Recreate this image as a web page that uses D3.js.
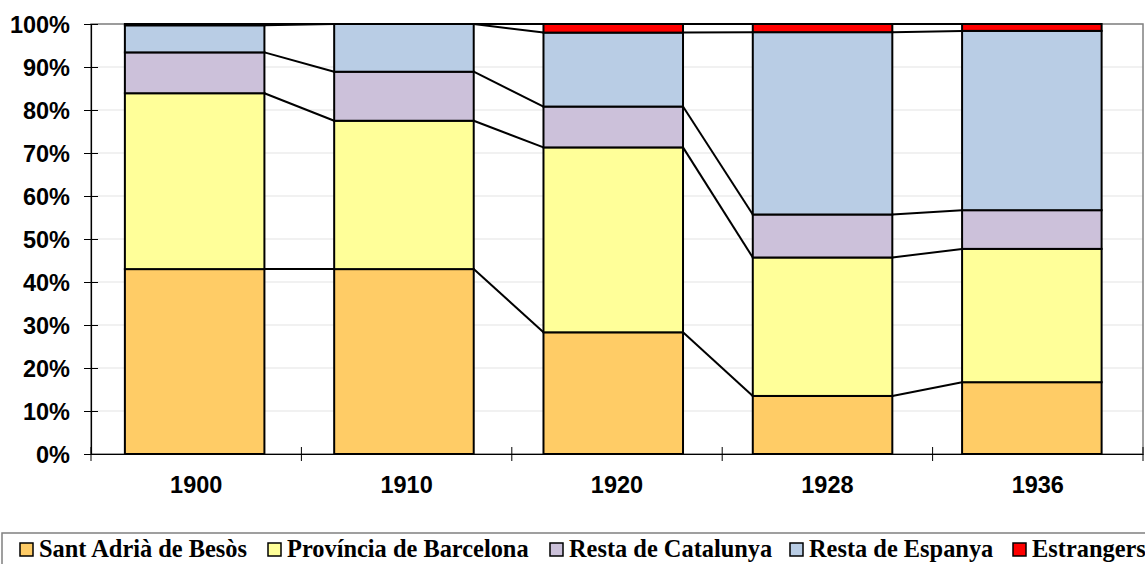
<!DOCTYPE html>
<html>
<head>
<meta charset="utf-8">
<script src="https://cdn.jsdelivr.net/npm/d3@7"></script>
<style>
  body { margin: 0; background: white; }
  svg { display: block; }
</style>
</head>
<body>
<div id="chart"></div>
<script>
let years = ["1900", "1910", "1920", "1928", "1936"];
let seriesNames = ["Sant Adrià de Besòs", "Província de Barcelona", "Resta de Catalunya", "Resta de Espanya", "Estrangers"];
let santAdria = [43.0, 43.0, 28.3, 13.5, 16.7];
let provincia = [40.9, 34.5, 43.0, 32.2, 31.0];
let restaCatalunya = [9.5, 11.4, 9.5, 10.0, 9.0];
let restaEspanya = [6.3, 11.1, 17.2, 42.4, 41.7];
let estrangers = [0.3, 0.0, 2.0, 1.9, 1.6];
let yTicks = [0, 10, 20, 30, 40, 50, 60, 70, 80, 90, 100];
let colorArray = ["#FFCC66", "#FFFF99", "#CCC1DA", "#B9CDE5", "#FF0000"];

const wSvg = 1145;
const hSvg = 564;
const plotLeft = 91, plotRight = 1143, plotTop = 24, plotBottom = 454;

let rows = years.map((y, i) => ({
    year: y,
    "Sant Adrià de Besòs": santAdria[i],
    "Província de Barcelona": provincia[i],
    "Resta de Catalunya": restaCatalunya[i],
    "Resta de Espanya": restaEspanya[i],
    "Estrangers": estrangers[i]
}));

let stacked = d3.stack().keys(seriesNames)(rows);

// category axis spans the whole plot; bars sit slightly left like the original
let catScale = d3.scaleBand(years, [plotLeft, plotRight]);
let xScale = d3.scaleBand(years, [plotLeft - 1, plotLeft - 1 + 5 * 209.3]).paddingInner(1 / 3).paddingOuter(1 / 6);
let yScale = d3.scaleLinear([0, 100], [plotBottom, plotTop]);

let svg = d3.select("#chart")
    .append("svg")
    .attr("width", wSvg)
    .attr("height", hSvg);

// gridlines
svg.append("g")
    .selectAll("line")
    .data(yTicks.slice(1))
    .enter()
    .append("line")
    .attr("x1", plotLeft)
    .attr("x2", plotRight)
    .attr("y1", d => yScale(d))
    .attr("y2", d => yScale(d))
    .attr("stroke", "#E3E3E3")
    .attr("stroke-width", 1);

// plot area border
svg.append("rect")
    .attr("x", plotLeft)
    .attr("y", plotTop)
    .attr("width", plotRight - plotLeft)
    .attr("height", plotBottom - plotTop)
    .attr("fill", "none")
    .attr("stroke", "#808080")
    .attr("stroke-width", 1.5);

// series lines
for (let layer of stacked) {
    for (let i = 0; i < years.length - 1; i++) {
        svg.append("line")
            .attr("x1", xScale(years[i]) + xScale.bandwidth())
            .attr("y1", yScale(layer[i][1]))
            .attr("x2", xScale(years[i + 1]))
            .attr("y2", yScale(layer[i + 1][1]))
            .attr("stroke", "black")
            .attr("stroke-width", 2);
    }
}

// bars
stacked.forEach((layer, k) => {
    svg.append("g")
        .selectAll("rect")
        .data(layer)
        .enter()
        .append("rect")
        .attr("x", d => xScale(d.data.year))
        .attr("y", d => yScale(d[1]))
        .attr("width", xScale.bandwidth())
        .attr("height", d => yScale(d[0]) - yScale(d[1]))
        .attr("fill", colorArray[k])
        .attr("stroke", "black")
        .attr("stroke-width", 2);
});

// y axis
let yAxis = d3.axisLeft(yScale).tickValues(yTicks).tickSize(0).tickFormat(d => d + "%");
let yG = svg.append("g")
    .attr("transform", `translate(${plotLeft}, 0)`)
    .call(yAxis);
yG.selectAll(".tick line").remove();
yG.selectAll(".tick")
    .append("line")
    .attr("x1", -7)
    .attr("x2", 7)
    .attr("stroke", "black");
yG.selectAll("text")
    .attr("x", -21)
    .attr("dy", "0.36em")
    .style("font-family", "'Liberation Sans', Arial, sans-serif")
    .style("font-weight", "bold")
    .style("font-size", "23.5px")
    .attr("fill", "black");

// x axis
let xAxis = d3.axisBottom(catScale).tickSize(0);
let xG = svg.append("g")
    .attr("transform", `translate(0, ${plotBottom})`)
    .call(xAxis);
xG.selectAll("text")
    .attr("y", 22)
    .attr("dy", "0.71em")
    .style("font-family", "'Liberation Sans', Arial, sans-serif")
    .style("font-weight", "bold")
    .style("font-size", "23.5px")
    .attr("fill", "black");
let step = catScale.step();
let boundaries = d3.range(years.length + 1).map(i => plotLeft + i * step);
xG.selectAll(".sep")
    .data(boundaries)
    .enter()
    .append("line")
    .attr("class", "sep")
    .attr("x1", d => d)
    .attr("x2", d => d)
    .attr("y1", -7)
    .attr("y2", 7)
    .attr("stroke", "black");

svg.selectAll(".domain").attr("stroke", "black").attr("stroke-width", 1.2);

// legend
svg.append("rect")
    .attr("x", 2)
    .attr("y", 533)
    .attr("width", 1160)
    .attr("height", 60)
    .attr("fill", "white")
    .attr("stroke", "#808080")
    .attr("stroke-width", 1.5);

let legendX = [20, 268, 550, 790, 1013];
let legend = svg.append("g");
seriesNames.forEach((name, k) => {
    legend.append("rect")
        .attr("x", legendX[k])
        .attr("y", 543)
        .attr("width", 13)
        .attr("height", 13)
        .attr("fill", colorArray[k])
        .attr("stroke", "black")
        .attr("stroke-width", 1.5);
    legend.append("text")
        .attr("x", legendX[k] + 19)
        .attr("y", 557)
        .style("font-family", "'Liberation Serif', 'Times New Roman', serif")
        .style("font-weight", "bold")
        .style("font-size", "24.4px")
        .attr("fill", "black")
        .text(name);
});
</script>
</body>
</html>
